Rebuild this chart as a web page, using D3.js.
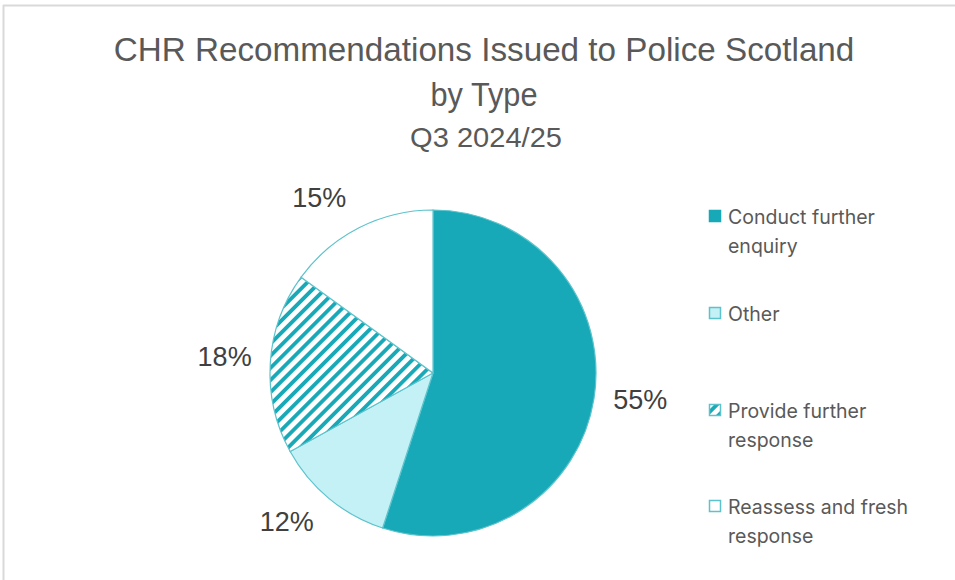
<!DOCTYPE html>
<html><head><meta charset="utf-8">
<script src="https://cdn.jsdelivr.net/npm/d3@7"></script>
<style>html,body{margin:0;padding:0;background:#fff;}svg{display:block;}</style>
</head><body>
<svg id="chart" width="955" height="580"></svg>
<script>
const categories = ["Conduct further enquiry", "Other", "Provide further response", "Reassess and fresh response"];
const values = [55, 12, 18, 15];
const labels = ["55%", "12%", "18%", "15%"];
const legendLines = [["Conduct further", "enquiry"], ["Other"], ["Provide further", "response"], ["Reassess and fresh", "response"]];
const titleLines = ["CHR Recommendations Issued to Police Scotland", "by Type"];
const subtitle = "Q3 2024/25";

const teal = "#17A9B7", light = "#C4F1F5", edge = "#5CC3CC", textCol = "#595959";
const svg = d3.select("#chart");

// frame
svg.append("line").attr("x1",3).attr("x2",955).attr("y1",5.5).attr("y2",5.5).attr("stroke","#d9d9d9").attr("stroke-width",2);
svg.append("line").attr("x1",3.5).attr("x2",3.5).attr("y1",5).attr("y2",580).attr("stroke","#d9d9d9").attr("stroke-width",2);

const defs = svg.append("defs");
const pat = defs.append("pattern").attr("id","hatch").attr("patternUnits","userSpaceOnUse")
  .attr("width",8.6).attr("height",8.6).attr("patternTransform","rotate(45)");
pat.append("rect").attr("width",8.6).attr("height",8.6).attr("fill","#fff");
pat.append("rect").attr("x",0).attr("y",0).attr("width",3.8).attr("height",8.6).attr("fill",teal);

const fills = [teal, light, "url(#hatch)", "#ffffff"];
const color = d3.scaleOrdinal().domain(categories).range(fills);

// horizontally compress text to a target width (narrow-font look)
function squeeze(sel, cx, w){
  const len = sel.node().getComputedTextLength();
  sel.attr("x", 0).attr("transform", `translate(${cx},0) scale(${w/len},1)`);
}

// title
const tFont = "'Liberation Sans',Arial,sans-serif";
const t1 = svg.append("text").attr("y",61).attr("text-anchor","middle")
  .attr("font-family",tFont).attr("font-size",34).attr("fill",textCol).text(titleLines[0]);
squeeze(t1, 484, 741);
const t2 = svg.append("text").attr("y",106).attr("text-anchor","middle")
  .attr("font-family",tFont).attr("font-size",34).attr("fill",textCol).text(titleLines[1]);
squeeze(t2, 484, 107);
const t3 = svg.append("text").attr("y",147).attr("text-anchor","middle")
  .attr("font-family",tFont).attr("font-size",28).attr("fill",textCol).text(subtitle);
squeeze(t3, 486, 152);

// pie
const cx = 433, cy = 373, R = 163;
const labelRadius = 209;
const labelAngleNudge = [-1.5, 4.8, 0.8, -6]; // degrees, layout tweak for label placement
const pie = d3.pie().sort(null).value(d => d.v);
const data = pie(categories.map((c,i)=>({c, v: values[i], l: labels[i]})));
const arc = d3.arc().innerRadius(0).outerRadius(R);
const g = svg.append("g").attr("transform",`translate(${cx},${cy})`);
g.selectAll("path").data(data).join("path")
  .attr("d", arc).attr("fill", d => color(d.data.c))
  .attr("stroke", edge).attr("stroke-width", 1.2);
g.selectAll("text").data(data).join("text")
  .attr("transform", (d,i) => {
    const a = (d.startAngle + d.endAngle)/2 + labelAngleNudge[i]*Math.PI/180;
    return `translate(${labelRadius*Math.sin(a)},${-labelRadius*Math.cos(a)})`;
  })
  .attr("text-anchor","middle").attr("dominant-baseline","central")
  .attr("font-family","'Liberation Sans',Arial,sans-serif").attr("font-size",27)
  .attr("fill","#404040").text(d => d.data.l);

// legend
const legY = [216, 313, 410, 506];
const lg = svg.append("g");
categories.forEach((c,i)=>{
  lg.append("rect").attr("x",709.5).attr("y",legY[i]-5.5).attr("width",11).attr("height",11)
    .attr("fill", color(c)).attr("stroke", i===0 ? teal : edge).attr("stroke-width",1.5);
  legendLines[i].forEach((ln,j)=>{
    lg.append("text").attr("x",728).attr("y",legY[i]+8+j*29)
      .attr("font-family","Inter,'Open Sans',sans-serif").attr("font-size",19.5)
      .attr("fill",textCol).text(ln);
  });
});
</script>
</body></html>
